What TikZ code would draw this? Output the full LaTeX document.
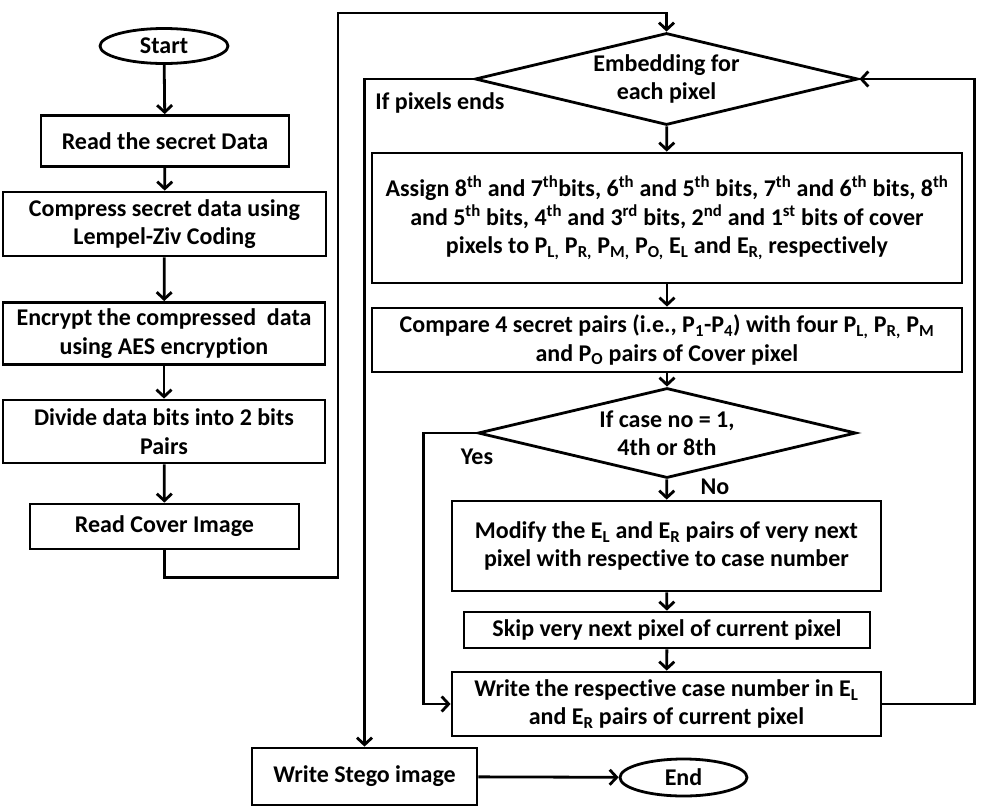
\documentclass[tikz,border=0pt]{standalone}
\usepackage{fontspec}
\setmainfont{Carlito}[Ligatures=CommonOff]
\usetikzlibrary{arrows.meta,shapes.geometric}

\tikzset{
  box/.style={draw, rectangle, inner sep=0pt, align=center},
  term/.style={draw, ellipse, inner sep=0pt},
  test/.style={draw, diamond, inner sep=0pt, aspect=4.2, align=center},
}
\newcommand{\thsup}[1]{\textsuperscript{#1}}
\newcommand{\lowsub}[1]{\textsubscript{#1}}

\begin{document}
\begin{tikzpicture}[x=1pt, y=-1pt, >={Straight Barb[length=7pt,width=15pt]}, line width=2.8pt,
    font=\fontsize{24}{28.5}\selectfont\bfseries]
  \useasboundingbox (0,0) rectangle (994,809);

  \node[term, minimum width=128pt, minimum height=35pt] (start) at (164,46) {Start};
  \node[box, minimum width=248pt, minimum height=51pt] (read) at (165,141) {Read the secret Data};
  \node[box, minimum width=323pt, minimum height=64pt] (compress) at (164.5,224) {Compress secret data using\\Lempel-Ziv Coding};
  \node[box, minimum width=322pt, minimum height=62pt] (encrypt) at (164,333.5) {Encrypt the compressed\ \ data\\using AES encryption};
  \node[box, minimum width=322pt, minimum height=63pt] (divide) at (164,431.5) {Divide data bits into 2 bits\\Pairs};
  \node[box, minimum width=269pt, minimum height=45pt] (cover) at (164.5,526.5) {Read Cover Image};

  \node[test, minimum width=383pt, minimum height=92pt] (embed) at (666.5,79) {Embedding for\\each pixel};
  \node[box, minimum width=590pt, minimum height=130pt] (assign) at (667,218)
    {Assign 8\thsup{th} and 7\thsup{th}bits, 6\thsup{th} and 5\thsup{th} bits, 7\thsup{th} and 6\thsup{th} bits, 8\thsup{th}\\
     and 5\thsup{th} bits, 4\thsup{th} and 3\thsup{rd} bits, 2\thsup{nd} and 1\thsup{st} bits of cover\\
     pixels to P\lowsub{L,} P\lowsub{R,} P\lowsub{M,} P\lowsub{O,} E\lowsub{L} and E\lowsub{R,} respectively};
  \node[box, minimum width=590pt, minimum height=64pt] (compare) at (667,340)
    {Compare 4 secret pairs (i.e., P\lowsub{1}-P\lowsub{4}) with four P\lowsub{L,} P\lowsub{R,} P\lowsub{M}\\
     and P\lowsub{O} pairs of Cover pixel};
  \node[test, minimum width=378pt, minimum height=90pt] (case) at (667,433) {If case no = 1,\\4th or 8th};
  \node[box, minimum width=429pt, minimum height=90pt] (modify) at (666.5,546)
    {Modify the E\lowsub{L} and E\lowsub{R} pairs of very next\\pixel with respective to case number};
  \node[box, minimum width=406pt, minimum height=36pt] (skip) at (667,630) {Skip very next pixel of current pixel};
  \node[box, minimum width=429pt, minimum height=64pt] (write) at (666.5,704)
    {Write the respective case number in E\lowsub{L}\\and E\lowsub{R} pairs of current pixel};
  \node[box, minimum width=225pt, minimum height=57pt] (stego) at (364.5,776.5) {Write Stego image};
  \node[term, minimum width=127pt, minimum height=37pt] (stop) at (683.5,777.5) {End};

  \node (ends) at (440,103) {If pixels ends};
  \node (yes) at (477,457) {Yes};
  \node (no) at (715,487) {No};

  \coordinate (topleft) at (338,13);

  \draw[->] (start) -- (read);
  \draw[->] (read) -- (compress);
  \draw[->] (compress) -- (encrypt);
  \draw[->] (encrypt) -- (divide);
  \draw[->] (divide) -- (cover);
  \draw[->] (cover.south) -- ++(0,27) -| (topleft) -| (embed.north);
  \draw[->] (embed) -- (assign);
  \draw[->] (assign) -- (compare);
  \draw[->] (compare) -- (case);
  \draw[->] (case) -- (modify);
  \draw[->] (modify) -- (skip);
  \draw[->] (skip) -- (write);
  \draw[->] (case.west) -- ++(-53,0) |- (write.west);
  \draw[->] (write.east) -- ++(92,0) |- (embed.east);
  \draw[->] (embed.west) -| (stego.north);
  \draw[->] (stego) -- (stop);
\end{tikzpicture}
\end{document}
